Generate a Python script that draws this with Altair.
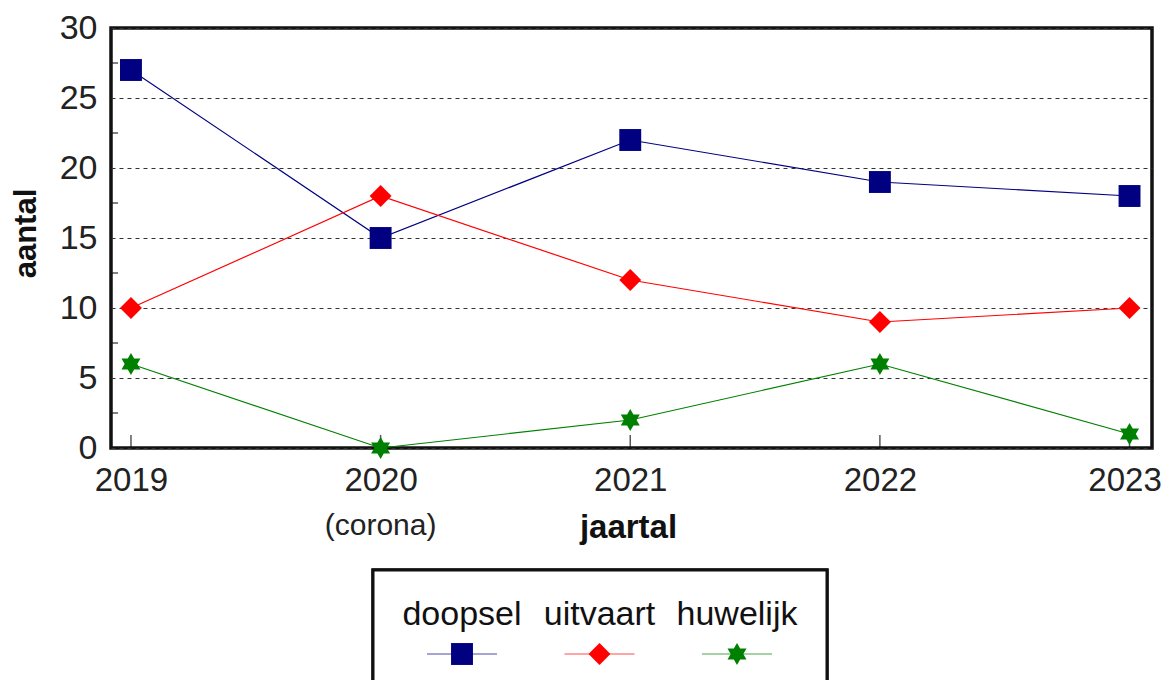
import altair as alt
import pandas as pd

years = [2019, 2020, 2021, 2022, 2023]
series_names = ["doopsel", "uitvaart", "huwelijk"]
doopsel = [27, 15, 22, 19, 18]
uitvaart = [10, 18, 12, 9, 10]
huwelijk = [6, 0, 2, 6, 1]
colors = ["#000080", "#ff0000", "#008000"]
y_ticks = [0, 5, 10, 15, 20, 25, 30]
y_minor = [2.5, 7.5, 12.5, 17.5, 22.5, 27.5]
notes_year = [2020]
notes_text = ["(corona)"]

STAR6 = ("M0,-1L0.289,-0.5L0.866,-0.5L0.577,0L0.866,0.5L0.289,0.5L0,1"
         "L-0.289,0.5L-0.866,0.5L-0.577,0L-0.866,-0.5L-0.289,-0.5Z")
shapes = ["square", "diamond", STAR6]

rows = []
for name, vals in zip(series_names, [doopsel, uitvaart, huwelijk]):
    for yr, v in zip(years, vals):
        rows.append({"jaar": yr, "aantal": v, "serie": name})
df = pd.DataFrame(rows)

FONT = "Liberation Sans"
W, H = 1041, 420

color_scale = alt.Scale(domain=series_names, range=colors)
shape_scale = alt.Scale(domain=series_names, range=shapes)
x_scale = alt.Scale(domain=[2018.92, 2023.09], nice=False, zero=False)
y_scale = alt.Scale(domain=[0, 30], nice=False)

base = alt.Chart(df)

x_enc = alt.X(
    "jaar:Q", scale=x_scale,
    axis=alt.Axis(
        values=years, format="d", title="jaartal", grid=False, domain=False,
        ticks=False, tickSize=0, labelFontSize=33, labelFont=FONT, labelColor="#222",
        labelBaseline="alphabetic", labelPadding=42, labelFlush=False, labelOverlap=False,
        labelOffset={"condition": {"test": "datum.value == 2023", "value": -5}, "value": 0},
        titleFont=FONT, titleFontSize=33, titleFontWeight="bold", titleColor="#111",
        titleX=517, titleY=89, titleBaseline="alphabetic", titleAlign="center",
    ),
)
y_enc = alt.Y(
    "aantal:Q", scale=y_scale,
    axis=alt.Axis(
        values=y_ticks, title="aantal", grid=True, gridDash=[4, 4], gridColor="#333",
        gridWidth=1, domain=False, ticks=False, tickSize=0, labelFontSize=34,
        labelFont=FONT, labelColor="#222", labelPadding=14, labelBaseline="middle",
        titleFont=FONT, titleFontSize=31, titleFontWeight="bold", titleColor="#111",
        titleX=-85, titleY=205, titleAlign="center", titleBaseline="middle", titleAngle=270,
    ),
)

lines = base.mark_line(strokeWidth=1.2).encode(
    x=x_enc, y=y_enc,
    color=alt.Color("serie:N", scale=color_scale, legend=None),
    detail="serie:N",
)
points = base.mark_point(filled=True, opacity=1, size=480).encode(
    x=alt.X("jaar:Q", scale=x_scale),
    y=alt.Y("aantal:Q", scale=y_scale),
    color=alt.Color("serie:N", scale=color_scale, legend=None),
    shape=alt.Shape("serie:N", scale=shape_scale, legend=None),
)

xt = alt.Chart(pd.DataFrame({"jaar": years})).mark_tick(
    orient="vertical", color="#111", thickness=1.5, size=13
).encode(x=alt.X("jaar:Q", scale=x_scale), y=alt.value(H - 6.5))

yt = alt.Chart(pd.DataFrame({"v": y_minor})).mark_tick(
    orient="horizontal", color="#111", thickness=1.5, size=7
).encode(y=alt.Y("v:Q", scale=y_scale), x=alt.value(3.5))

notes = alt.Chart(pd.DataFrame({"jaar": notes_year, "t": notes_text})).mark_text(
    font=FONT, fontSize=30, color="#222", baseline="alphabetic", align="center"
).encode(x=alt.X("jaar:Q", scale=x_scale), y=alt.value(507), text="t:N")

main = alt.layer(lines, xt, yt, points, notes)

# legend block (labels above line+marker samples)
leg_df = pd.DataFrame({"serie": series_names})
leg_x = alt.X("serie:N", scale=alt.Scale(type="point", domain=series_names,
                                         range=[351, 626], padding=0), axis=None)
leg_box = alt.Chart(leg_df).mark_rect(
    fill="white", stroke="#111", strokeWidth=3
).encode(x=alt.value(262), x2=alt.value(716), y=alt.value(542), y2=alt.value(700))
leg_text = alt.Chart(leg_df).mark_text(
    font=FONT, fontSize=34, color="#111", baseline="alphabetic", align="center"
).encode(x=leg_x, y=alt.value(597), text="serie:N")
leg_line = alt.Chart(leg_df).mark_tick(orient="horizontal", thickness=1.2, size=70).encode(
    x=leg_x, y=alt.value(626),
    color=alt.Color("serie:N", scale=color_scale, legend=None),
)
leg_pt = alt.Chart(leg_df).mark_point(filled=True, opacity=1, size=480).encode(
    x=leg_x, y=alt.value(626),
    color=alt.Color("serie:N", scale=color_scale, legend=None),
    shape=alt.Shape("serie:N", scale=shape_scale, legend=None),
)
legend = alt.layer(leg_box, leg_line, leg_pt, leg_text)

chart = alt.layer(main, legend).resolve_scale(x="independent").properties(
    width=W, height=H,
    background="white",
    autosize=alt.AutoSizeParams(type="none"),
    padding={"left": 103, "top": 20, "right": 10, "bottom": 232},
).configure_view(stroke="#111", strokeWidth=3.5)

chart.save("out.html", embed_options={"renderer": "svg", "actions": False})
